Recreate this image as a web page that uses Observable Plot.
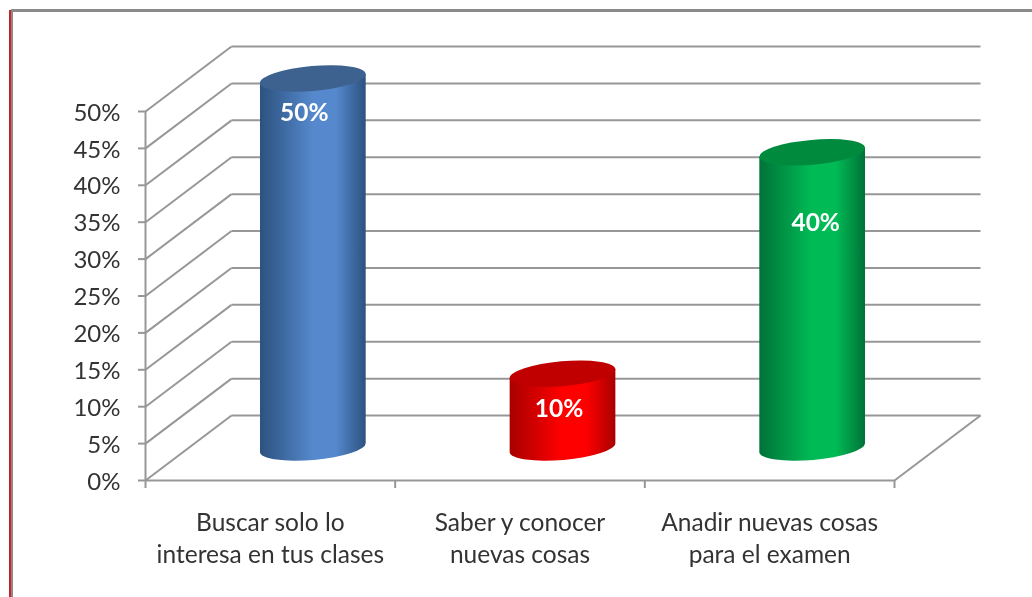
<!DOCTYPE html>
<html>
<head>
<meta charset="utf-8">
<script src="https://cdn.jsdelivr.net/npm/d3@7"></script>
<script src="https://cdn.jsdelivr.net/npm/@observablehq/plot@0.6"></script>
<style>
  html, body { margin: 0; padding: 0; background: #fff; width: 1032px; height: 597px; overflow: hidden; }
  #wrap { position: relative; width: 1032px; height: 597px; }
  #frame-top { position: absolute; left: 11px; top: 9px; right: 0; height: 3px; background: #8a8a8a; filter: blur(0.4px); }
  #frame-left { position: absolute; left: 9px; top: 10px; bottom: 0; width: 2px; background: #cf2027; border-right: 2px solid #8a8a8a; filter: blur(0.3px); }
  svg { position: absolute; left: 0; top: 0; filter: blur(0.45px); }
</style>
</head>
<body>
<div id="wrap"><div id="frame-top"></div><div id="frame-left"></div></div>
<script>
const categories = ["Buscar solo lo\ninteresa en tus clases", "Saber y conocer\nnuevas cosas", "Anadir nuevas cosas\npara el examen"];
const values = [50, 10, 40];
const sideEdge = ["#2c527f", "#a80000", "#007238"];
const sideMid = ["#5588cc", "#ff0000", "#00bb55"];
const topFill = ["#3d628f", "#c00000", "#008a3e"];
const yTicks = [0, 5, 10, 15, 20, 25, 30, 35, 40, 45, 50];
const xTicks = [0, 1, 2, 3];
const labelAt = [49.9, 9.8, 35];
const labelNudge = [-9, -4, 3];

const depthX = 0.3445, depthY = 8.8, radius = 0.2125;
const FONT = "Lato, 'Open Sans', sans-serif";
const bars = values.map((v, i) => ({i, v}));
const mid = i => i + 0.5 + depthX / 2;

function cylinders(index, scales, vals) {
  const ns = d3.namespaces.svg;
  const g = d3.select(document.createElementNS(ns, "g"));
  const defs = g.append("defs");
  const ry = 12.5, tilt = -5 * Math.PI / 180;
  for (const k of index) {
    const left = Math.min(vals.x1[k], vals.x2[k]), right = Math.max(vals.x1[k], vals.x2[k]);
    const base = vals.y1[k], top = vals.y2[k];
    const rx = (right - left) / 2, cx = (left + right) / 2;
    const ex = rx * Math.cos(tilt), ey = rx * Math.sin(tilt);
    const id = "cyl" + k;
    const grad = defs.append("linearGradient").attr("id", id).attr("x1", 0).attr("x2", 1).attr("y1", 0).attr("y2", 0);
    grad.append("stop").attr("offset", "0%").attr("stop-color", sideEdge[k]);
    grad.append("stop").attr("offset", "50%").attr("stop-color", sideMid[k]);
    grad.append("stop").attr("offset", "72%").attr("stop-color", sideMid[k]);
    grad.append("stop").attr("offset", "100%").attr("stop-color", sideEdge[k]);
    const deg = tilt * 180 / Math.PI;
    g.append("path").attr("fill", `url(#${id})`)
      .attr("d", `M${cx - ex},${top - ey}L${cx - ex},${base - ey}A${rx},${ry} ${deg} 0 0 ${cx + ex},${base + ey}L${cx + ex},${top + ey}Z`);
    g.append("path").attr("fill", topFill[k])
      .attr("d", `M${cx - ex},${top - ey}A${rx},${ry} ${deg} 1 1 ${cx + ex},${top + ey}A${rx},${ry} ${deg} 1 1 ${cx - ex},${top - ey}Z`);
  }
  return g.node();
}

const gridStyle = {stroke: "#979797", strokeWidth: 2, strokeOpacity: 1};

const plot = Plot.plot({
  width: 1032,
  height: 597,
  marginTop: 0, marginBottom: 0, marginLeft: 0, marginRight: 0,
  style: {background: "transparent", overflow: "visible"},
  x: {type: "linear", domain: [0, 3], range: [145, 894], axis: null},
  y: {type: "linear", domain: [0, 50], range: [480, 111], axis: null},
  marks: [
    // back wall
    Plot.link(yTicks, {x1: depthX, x2: 3 + depthX, y1: d => d + depthY, y2: d => d + depthY, ...gridStyle}),
    // side wall
    Plot.link(yTicks, {x1: 0, x2: depthX, y1: d => d, y2: d => d + depthY, ...gridStyle}),
    // floor right edge
    Plot.link([0], {x1: 3, x2: 3 + depthX, y1: 0, y2: depthY, ...gridStyle}),
    // axes
    Plot.ruleX([0], {y1: 0, y2: 50, ...gridStyle}),
    Plot.ruleY([0], {x1: 0, x2: 3, ...gridStyle}),
    Plot.axisY(yTicks, {
      anchor: "left", tickSize: 7, label: null, tickFormat: () => "",
      stroke: "#979797", strokeWidth: 2, x: 0
    }),
    Plot.axisY(yTicks, {
      anchor: "left", tickSize: 0, tickPadding: 25, label: null, dy: 1.5,
      tickFormat: d => d + "%", fill: "#333", fontSize: 24, fontFamily: FONT, x: 0
    }),
    Plot.axisX(xTicks, {
      anchor: "bottom", y: 0, tickSize: 8, label: null, tickFormat: () => "",
      stroke: "#979797", strokeWidth: 2
    }),
    // cylinders
    Plot.rect(bars, {
      x1: d => mid(d.i) - radius, x2: d => mid(d.i) + radius,
      y1: depthY / 2, y2: d => d.v + depthY / 2,
      render: cylinders
    }),
    // data labels
    ...bars.map(d => Plot.text([d], {
      x: mid(d.i), y: labelAt[d.i], dx: labelNudge[d.i], dy: 1, text: x => x.v + "%",
      fill: "#fff", fontSize: 24.5, fontWeight: 700, fontFamily: FONT
    })),
    // category labels
    Plot.text(categories, {
      x: (d, i) => i + 0.5, y: 0, dy: 56, text: d => d, lineHeight: 1.3, lineAnchor: "middle",
      fill: "#333", fontSize: 24.5, fontFamily: FONT
    })
  ]
});
document.getElementById("wrap").appendChild(plot);
</script>
</body>
</html>
